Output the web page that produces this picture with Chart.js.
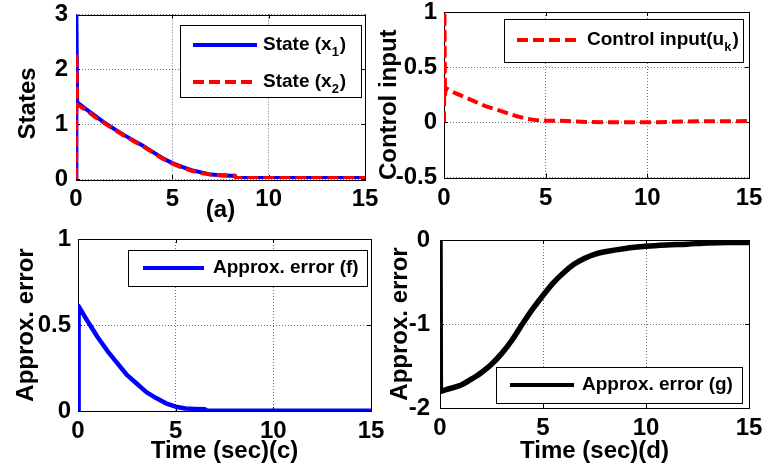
<!DOCTYPE html>
<html>
<head>
<meta charset="utf-8">
<script src="https://cdn.jsdelivr.net/npm/chart.js@4.4.6/dist/chart.umd.min.js"></script>
<style>
  html, body { margin: 0; background: #fff; }
  body { width: 764px; height: 476px; position: relative; overflow: hidden; }
  canvas { position: absolute; }
</style>
</head>
<body>
<canvas id="chart-a" width="382" height="228" style="left:0;top:0"></canvas>
<canvas id="chart-b" width="392" height="228" style="left:372px;top:0"></canvas>
<canvas id="chart-c" width="386" height="248" style="left:0;top:228px"></canvas>
<canvas id="chart-d" width="392" height="248" style="left:372px;top:228px"></canvas>
<script>
// ---- data ----
const xTicks = [0, 5, 10, 15];

// (a) states
const tState = [0, 0.02, 0.06, 0.5, 1, 1.5, 2, 2.5, 3, 3.5, 4, 4.5, 5, 5.5, 6, 6.5, 7, 7.5, 8, 8.25, 8.3, 10, 12, 15];
const x1 = [0, 3, 1.40, 1.28, 1.15, 1.02, 0.91, 0.80, 0.70, 0.60, 0.49, 0.38, 0.29, 0.22, 0.16, 0.12, 0.08, 0.07, 0.06, 0.06, 0.02, 0.02, 0.02, 0.02];
const x2 = [0, 2.3, 1.36, 1.26, 1.13, 1.01, 0.90, 0.79, 0.69, 0.59, 0.48, 0.37, 0.28, 0.21, 0.15, 0.11, 0.08, 0.07, 0.06, 0.06, 0.02, 0.02, 0.02, 0.02];
const yTicksA = [0, 1, 2, 3];

// (b) control input
const tCtrl = [0, 0.02, 0.05, 0.08, 0.5, 1, 1.5, 2, 2.5, 3, 3.5, 4, 4.5, 5, 6, 7, 8, 10, 12, 13, 14, 15];
const uk = [0, 1, 0.25, 0.31, 0.27, 0.23, 0.19, 0.15, 0.12, 0.09, 0.06, 0.035, 0.02, 0.015, 0.013, 0.003, 0, 0, 0.008, 0.01, 0.01, 0.012];
const yTicksB = [-0.5, 0, 0.5, 1];

// (c) approximation error f
const tErrF = [0, 0.03, 0.5, 1, 1.5, 2, 2.5, 3, 3.5, 4, 4.5, 5, 5.5, 6, 6.5, 6.6, 10, 15];
const errF = [0, 0.61, 0.52, 0.43, 0.35, 0.28, 0.21, 0.16, 0.11, 0.075, 0.045, 0.025, 0.015, 0.012, 0.01, 0.002, 0.002, 0.002];
const yTicksC = [0, 0.5, 1];

// (d) approximation error g
const tErrG = [0, 0.02, 0.3, 1, 1.5, 2, 2.5, 3, 3.5, 4, 4.5, 5, 5.5, 6, 6.5, 7, 7.5, 8, 9, 10, 11, 12, 13, 14, 15];
const errG = [0, -1.8, -1.78, -1.73, -1.66, -1.58, -1.48, -1.35, -1.19, -1.0, -0.82, -0.66, -0.51, -0.39, -0.29, -0.22, -0.17, -0.14, -0.1, -0.075, -0.06, -0.05, -0.035, -0.03, -0.03];
const yTicksD = [-2, -1, 0];

const FONT = '"Liberation Sans", Arial, Helvetica, sans-serif';
Chart.defaults.font.family = FONT;
Chart.defaults.font.weight = "bold";
Chart.defaults.font.size = 24;
Chart.defaults.color = "#000";

function pts(t, v) { return t.map((x, i) => ({ x, y: v[i] })); }

// axes box + inward ticks, matlab style
const framePlugin = {
  id: "frame",
  beforeDatasetsDraw(chart) {
    const { ctx, chartArea: a, scales } = chart;
    ctx.save();
    ctx.strokeStyle = "#000";
    ctx.lineWidth = 1;
    ctx.strokeRect(Math.round(a.left) + 0.5, Math.round(a.top) + 0.5,
      Math.round(a.right - a.left), Math.round(a.bottom - a.top));
    ctx.beginPath();
    for (const tk of scales.x.ticks) {
      const px = Math.round(scales.x.getPixelForValue(tk.value)) + 0.5;
      ctx.moveTo(px, a.bottom); ctx.lineTo(px, a.bottom - 4);
      ctx.moveTo(px, a.top); ctx.lineTo(px, a.top + 4);
    }
    for (const tk of scales.y.ticks) {
      const py = Math.round(scales.y.getPixelForValue(tk.value)) + 0.5;
      ctx.moveTo(a.left, py); ctx.lineTo(a.left + 4, py);
      ctx.moveTo(a.right, py); ctx.lineTo(a.right - 4, py);
    }
    ctx.stroke();
    ctx.restore();
  }
};

// boxed legend inside the axes, "_k" in a label is a subscript
const legendPlugin = {
  id: "boxLegend",
  afterDraw(chart, args, o) {
    if (!o.box) return;
    const { ctx } = chart;
    const [bx, by, bw, bh] = o.box;
    ctx.save();
    ctx.fillStyle = "#fff";
    ctx.fillRect(bx, by, bw, bh);
    ctx.strokeStyle = "#000";
    ctx.lineWidth = 1;
    ctx.strokeRect(bx + 0.5, by + 0.5, bw, bh);
    chart.data.datasets.forEach((ds, i) => {
      const y = by + o.rows[i];
      ctx.strokeStyle = ds.borderColor;
      ctx.lineWidth = Math.min(ds.borderWidth, 4);
      ctx.setLineDash(ds.borderDash || []);
      ctx.beginPath();
      ctx.moveTo(bx + o.lineX, y);
      ctx.lineTo(bx + o.lineX + o.lineLen, y);
      ctx.stroke();
      ctx.setLineDash([]);
      ctx.fillStyle = "#000";
      ctx.textBaseline = "middle";
      ctx.textAlign = "left";
      let x = bx + o.textX;
      ds.label.split(/_(.)/).forEach((part, k) => {
        const sub = k % 2 === 1;
        ctx.font = `bold ${sub ? 13 : 19}px ${FONT}`;
        ctx.fillText(part, x, sub ? y + 7 : y);
        x += ctx.measureText(part).width + (sub ? 1 : 0);
      });
    });
    ctx.restore();
  }
};

function makePanel(id, p) {
  const L = p.layout;
  const grid = { color: "rgba(0,0,0,0.55)", lineWidth: 1, drawTicks: false };
  return new Chart(document.getElementById(id), {
    type: "line",
    data: { datasets: p.datasets },
    options: {
      responsive: false,
      animation: false,
      events: [],
      layout: { padding: { left: L.padL, top: L.padT, right: L.padR, bottom: L.padB } },
      elements: {
        point: { radius: 0 },
        line: { tension: 0, borderCapStyle: "butt", borderJoinStyle: "round" },
      },
      plugins: { legend: { display: false }, tooltip: { enabled: false }, boxLegend: p.legend },
      scales: {
        x: {
          type: "linear", min: 0, max: 15,
          afterBuildTicks: s => { s.ticks = xTicks.map(v => ({ value: v })); },
          ticks: { padding: L.xTickPad, maxRotation: 0, autoSkip: false, callback: v => String(v) },
          grid, border: { display: false, dash: [1, 2] },
          title: { display: !!p.xTitle, text: p.xTitle || "", padding: 0 },
          afterFit: s => { s.height = L.xH; s.paddingLeft = 0; s.paddingRight = 0; },
        },
        y: {
          type: "linear", min: p.yTicks[0], max: p.yTicks[p.yTicks.length - 1],
          afterBuildTicks: s => { s.ticks = p.yTicks.map(v => ({ value: v })); },
          ticks: { padding: L.yTickPad, autoSkip: false, callback: v => String(v) },
          grid, border: { display: false, dash: [1, 2] },
          title: { display: true, text: p.yTitle, padding: 0 },
          afterFit: s => { s.width = L.yW; s.paddingTop = 0; s.paddingBottom = 0; },
        },
      },
    },
    plugins: [framePlugin, legendPlugin],
  });
}

makePanel("chart-a", {
  datasets: [
    { label: "State (x_1)", data: pts(tState, x1), borderColor: "#0000ff", borderWidth: 4, order: 1 },
    { label: "State (x_2)", data: pts(tState, x2), borderColor: "#ff0000", borderWidth: 4, borderDash: [11, 5], order: 0 },
  ],
  yTicks: yTicksA, yTitle: "States  ", xTitle: "(a)",
  layout: { padL: 13.6, yW: 62.4, padR: 17, padT: 14.5, xH: 45.4, padB: 3.6, yTickPad: 8, xTickPad: 5.6 },
  legend: { box: [180, 25, 181, 72], rows: [20, 57], lineX: 13, lineLen: 64, textX: 83 },
});

makePanel("chart-b", {
  datasets: [
    { label: "Control input(u_k)", data: pts(tCtrl, uk), borderColor: "#ff0000", borderWidth: 4, borderDash: [11, 5] },
  ],
  yTicks: yTicksB, yTitle: "Control input   ",
  layout: { padL: 2.6, yW: 69.4, padR: 15, padT: 12, xH: 40, padB: 10.5, yTickPad: 7, xTickPad: 6 },
  legend: { box: [132, 19, 239, 43], rows: [21], lineX: 13, lineLen: 62, textX: 83 },
});

makePanel("chart-c", {
  datasets: [
    { label: "Approx. error (f)", data: pts(tErrF, errF), borderColor: "#0000ff", borderWidth: 4.5 },
  ],
  yTicks: yTicksC, yTitle: "Approx. error", xTitle: "Time (sec)(c)",
  layout: { padL: 11.6, yW: 66.4, padR: 15, padT: 11, xH: 54.4, padB: 10.6, yTickPad: 7, xTickPad: 5.6 },
  legend: { box: [128, 22, 239, 36], rows: [18], lineX: 15, lineLen: 61, textX: 85 },
});

makePanel("chart-d", {
  datasets: [
    { label: "Approx. error (g)", data: pts(tErrG, errG), borderColor: "#000000", borderWidth: 5.5, cubicInterpolationMode: "monotone" },
  ],
  yTicks: yTicksD, yTitle: "Approx. error", xTitle: "Time (sec)(d)",
  layout: { padL: 13.6, yW: 54.4, padR: 15, padT: 12, xH: 57.4, padB: 10.6, yTickPad: 10, xTickPad: 5.6 },
  legend: { box: [124, 139, 246, 36], rows: [18], lineX: 14, lineLen: 64, textX: 86 },
});
</script>
</body>
</html>
